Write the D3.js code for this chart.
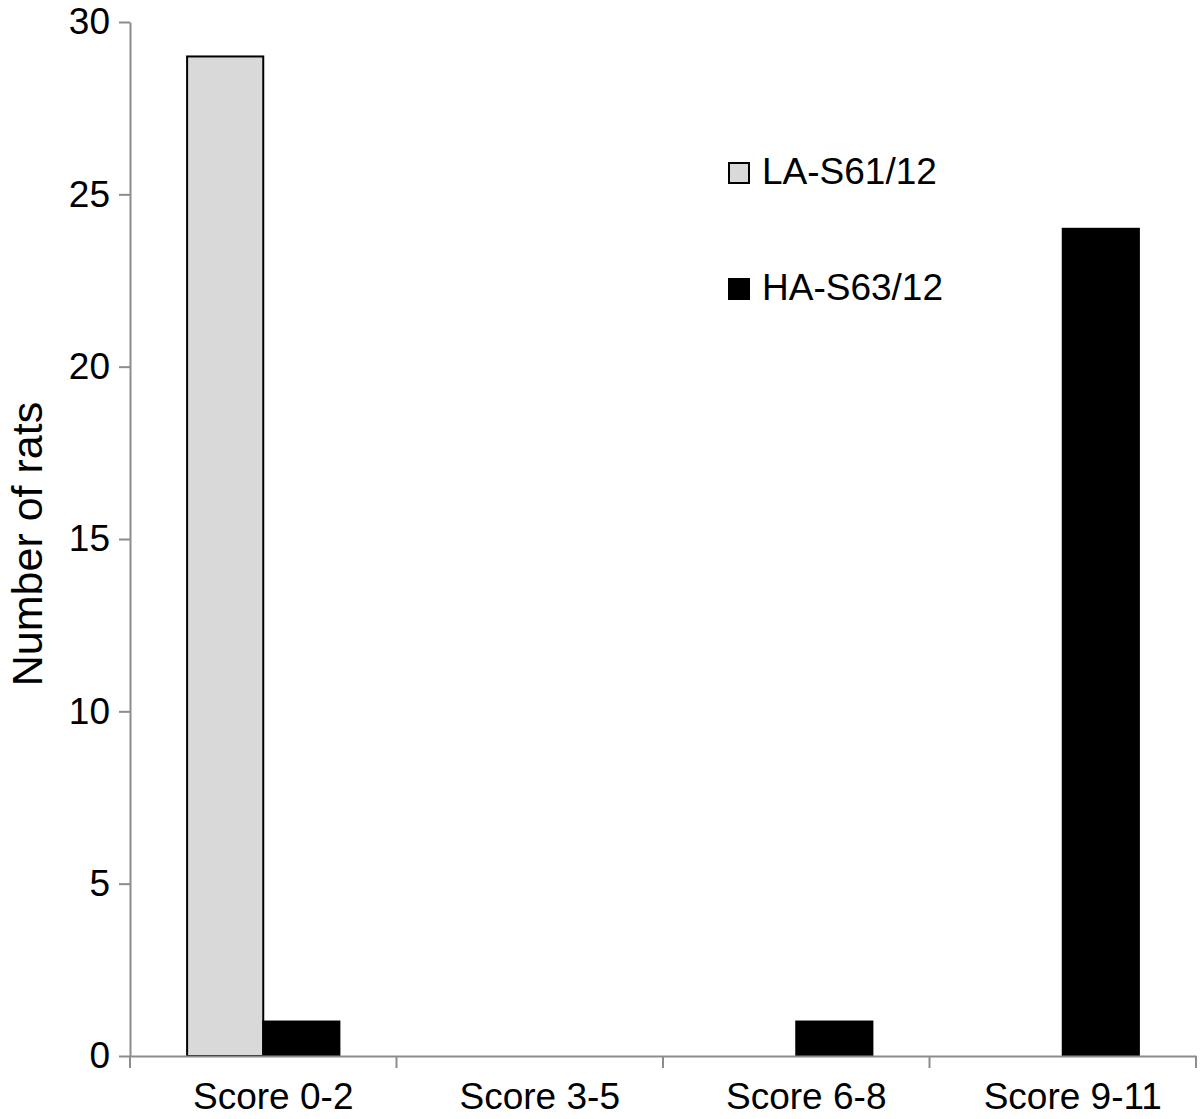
<!DOCTYPE html>
<meta charset="utf-8">
<style>
    body {
        margin: 0;
        background: #fff;
        font-family: "Liberation Sans", Arial, sans-serif;
    }

    .axis path,
    .axis line {
        stroke: #8c8c8c;
        stroke-width: 2px;
    }

    .axis text {
        fill: #000;
        font-size: 37px;
        font-family: "Liberation Sans", Arial, sans-serif;
    }
</style>

<body>
    <svg id="chart" width="1200" height="1119"></svg>

    <script src="https://cdnjs.cloudflare.com/ajax/libs/d3/7.8.5/d3.min.js"></script>

    <script>
        var categories = ["Score 0-2", "Score 3-5", "Score 6-8", "Score 9-11"];
        var seriesNames = ["LA-S61/12", "HA-S63/12"];
        var laValues = [29, 0, 0, 0];
        var haValues = [1, 0, 1, 24];
        var yTicks = [0, 5, 10, 15, 20, 25, 30];

        var svg = d3.select("#chart"),
            margin = { top: 22, right: 4, bottom: 63, left: 130 },
            width = +svg.attr("width"),
            height = +svg.attr("height");

        var x = d3.scaleBand()
            .domain(categories)
            .range([margin.left, width - margin.right])
            .paddingInner(0)
            .paddingOuter(0);

        var x1 = d3.scaleBand()
            .domain(seriesNames)
            .range([0, x.bandwidth()])
            .paddingInner(0)
            .paddingOuter(0.75);

        var y = d3.scaleLinear()
            .domain([0, 30])
            .range([height - margin.bottom, margin.top]);

        var colors = { "LA-S61/12": "#d9d9d9", "HA-S63/12": "#000000" };

        var rows = categories.map(function (c, i) {
            return { cat: c, values: [
                { key: seriesNames[0], v: laValues[i] },
                { key: seriesNames[1], v: haValues[i] }
            ] };
        });

        var groups = svg.append("g").selectAll("g")
            .data(rows)
            .enter().append("g")
            .attr("transform", function (d) { return "translate(" + x(d.cat) + ",0)"; });

        groups.selectAll("rect")
            .data(function (d) { return d.values.filter(function (e) { return e.v > 0; }); })
            .enter().append("rect")
            .attr("x", function (d) { return x1(d.key); })
            .attr("width", x1.bandwidth())
            .attr("y", function (d) { return y(d.v); })
            .attr("height", function (d) { return y(0) - y(d.v); })
            .attr("fill", function (d) { return colors[d.key]; })
            .attr("stroke", "#000")
            .attr("stroke-width", 2);

        // y axis
        svg.append("g")
            .attr("class", "axis")
            .attr("transform", "translate(" + margin.left + ",0)")
            .call(d3.axisLeft(y).tickValues(yTicks).tickSize(11).tickSizeOuter(0).tickPadding(9));

        // x axis, ticks sit on the category boundaries
        var xAxis = svg.append("g")
            .attr("class", "axis")
            .attr("transform", "translate(0," + y(0) + ")")
            .call(d3.axisBottom(x).tickSize(0).tickSizeOuter(0).tickPadding(27));

        // labels in the original sit a bit right of the band centre
        xAxis.selectAll(".tick text").attr("dx", 10);

        var bounds = categories.map(function (c) { return x(c); }).concat([x.range()[1]]);
        xAxis.selectAll(".bound")
            .data(bounds)
            .enter().append("line")
            .attr("class", "bound")
            .attr("x1", function (d) { return d; })
            .attr("x2", function (d) { return d; })
            .attr("y1", 0)
            .attr("y2", 12);

        // y title
        svg.append("text")
            .attr("transform", "translate(42," + (y(15) + 5) + ") rotate(-90)")
            .attr("text-anchor", "middle")
            .style("font-size", "43px")
            .text("Number of rats");

        // legend
        var legend = svg.append("g").selectAll("g")
            .data(seriesNames)
            .enter().append("g")
            .attr("transform", function (d, i) { return "translate(729," + (163 + i * 116) + ")"; });

        legend.append("rect")
            .attr("width", 20)
            .attr("height", 20)
            .attr("fill", function (d) { return colors[d]; })
            .attr("stroke", "#000")
            .attr("stroke-width", 2);

        legend.append("text")
            .attr("x", 33)
            .attr("y", 21)
            .style("font-size", "37px")
            .text(function (d) { return d; });
    </script>
</body>
